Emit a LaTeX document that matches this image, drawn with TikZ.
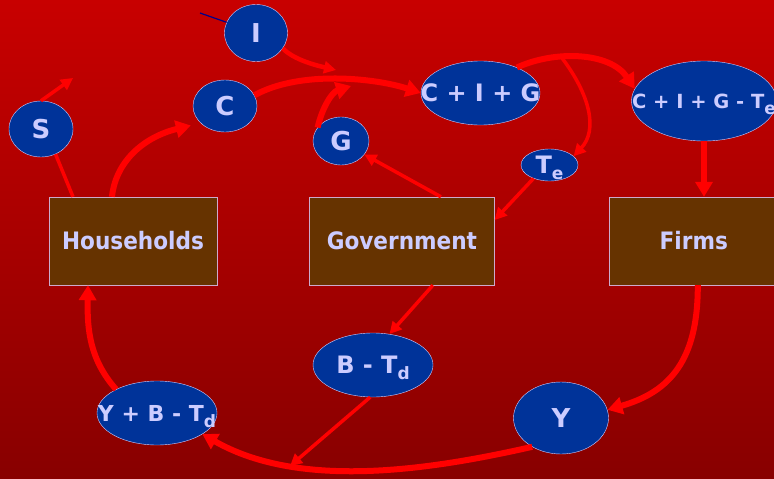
\documentclass[tikz,border=0pt]{standalone}
\usepackage{fontspec}
\setmainfont{DejaVu Sans}
\newfontfamily\sectorfont{DejaVu Sans}[FakeStretch=0.9]
\usepackage{tikz}
\usetikzlibrary{arrows.meta,shapes.geometric,positioning}

\definecolor{bgtop}{RGB}{200,0,0}
\definecolor{bgbottom}{RGB}{136,0,0}
\definecolor{flowblue}{RGB}{0,51,153}
\definecolor{sectorbrown}{RGB}{102,51,0}
\definecolor{labeltext}{RGB}{204,204,255}
\definecolor{boxedge}{RGB}{204,170,204}
\definecolor{strayblue}{RGB}{0,0,140}

% text of an ellipse must not widen it
\newcommand{\amt}[1]{\makebox[0pt]{#1}}
\newcommand{\lowidx}[1]{\raisebox{-6pt}[0pt][0pt]{\fontsize{17}{17}\selectfont #1}}

\tikzset{
    sector/.style={rectangle, draw=boxedge, thin, fill=sectorbrown, text=labeltext, minimum height=88pt, font=\sectorfont\fontsize{24}{28}\selectfont\bfseries},
    quantity/.style={ellipse, draw=labeltext, thin, fill=flowblue, text=labeltext, inner sep=0pt, font=\fontsize{24}{28}\selectfont\bfseries},
    letter/.style={quantity, font=\fontsize{26}{30}\selectfont\bfseries},
    flow/.style={draw=red, line width=6pt, -{Triangle[length=15pt,width=17pt]}},
    link/.style={draw=red, line width=3.5pt, -{Triangle[length=12pt,width=12pt]}}
}

\begin{document}
\begin{tikzpicture}[x=1pt, y=-1pt]
    \useasboundingbox (0,0) rectangle (774,479);
    \clip (0,0) rectangle (774,479);
    \shade[top color=bgtop, bottom color=bgbottom] (0,0) rectangle (774,479);

    %Sectors
    \node (households) [sector, minimum width=168pt]                   at (133,241) {Households};
    \node (government) [sector, minimum width=185pt, right=92pt of households] {Government};
    \node (firms)      [sector, minimum width=170pt, right=114pt of government] {Firms};

    %Amounts
    \node (investment)      [letter, minimum width=63pt, minimum height=57pt]    at (256,33)    {\amt{I}};
    \node (consumption)     [letter, minimum width=64pt, minimum height=52pt]    at (225,106)   {\amt{C}};
    \node (saving)          [letter, minimum width=64pt, minimum height=56pt]    at (41,129)    {\amt{S}};
    \node (gov_spending)    [letter, minimum width=56pt, minimum height=48pt]    at (341,141)   {\amt{G}};
    \node (expenditure)     [quantity, minimum width=119pt, minimum height=64pt] at (480.5,93)  {\amt{C + I + G}};
    \node (net_expenditure) [quantity, minimum width=145pt, minimum height=80pt, font=\fontsize{19.5}{24}\selectfont\bfseries]
                                                                                 at (704,101)   {\amt{C + I + G - T\lowidx{e}}};
    \node (exp_tax)         [quantity, minimum width=57pt, minimum height=32pt]  at (549.5,165) {\amt{T\lowidx{e}}};
    \node (transfers)       [quantity, minimum width=120pt, minimum height=64pt] at (373,365)   {\amt{B - T\lowidx{d}}};
    \node (disposable)      [quantity, minimum width=120pt, minimum height=64pt, font=\fontsize{22}{26}\selectfont\bfseries]
                                                                                 at (157,413)   {\amt{Y + B - T\lowidx{d}}};
    \node (income)          [letter, minimum width=95pt, minimum height=72pt]    at (561,418)   {\amt{Y}};

    % Loose ends of flows
    \coordinate (leak)  at (73,78);
    \coordinate (i_in)  at (336,70);
    \coordinate (g_in)  at (351,86);
    \coordinate (split) at (562,58);
    \coordinate (b_in)  at (290,466);
    \coordinate (stray) at (200,13);

    %Lines
    \draw[link, -] ([xshift=-60pt]households.north) -- (saving.300);
    \draw[link] (saving.north) -- (leak);
    \draw[flow, shorten >=10pt] ([xshift=-21pt]households.north) .. controls (115,165) and (140,138) .. (consumption.215);
    \draw[flow] (consumption.20) .. controls (300,70) and (375,78) .. (expenditure.west);
    \draw[link, line width=4.5pt] (investment.-30) .. controls (292,58) and (310,64) .. (i_in);
    \draw[flow] (gov_spending.150) .. controls (322,108) and (332,92) .. (g_in);
    \draw[link] ([xshift=39pt]government.north) -- (gov_spending.-30);
    \draw[flow] (expenditure.35) .. controls (555,50) and (610,52) .. (net_expenditure.170);
    \draw[link] (split) .. controls (590,95) and (598,130) .. (exp_tax.20);
    \draw[link] (exp_tax.220) -- ([yshift=21pt]government.east);
    \draw[flow] (net_expenditure.south) -- (net_expenditure.south |- firms.north);
    \draw[flow] ([xshift=4pt]firms.south) .. controls (698,360) and (670,392) .. (income.10);
    \draw[flow] (income.225) .. controls (430,470) and (300,490) .. (disposable.-25);
    \draw[link] (transfers.265) -- (b_in);
    \draw[flow] (disposable.150) .. controls (90,360) and (87,330) .. ([xshift=-45pt]households.south);
    \draw[link] ([xshift=31pt]government.south) -- (transfers.62);
    \draw[strayblue, line width=1.2pt] (stray) -- (investment.160);
\end{tikzpicture}
\end{document}
